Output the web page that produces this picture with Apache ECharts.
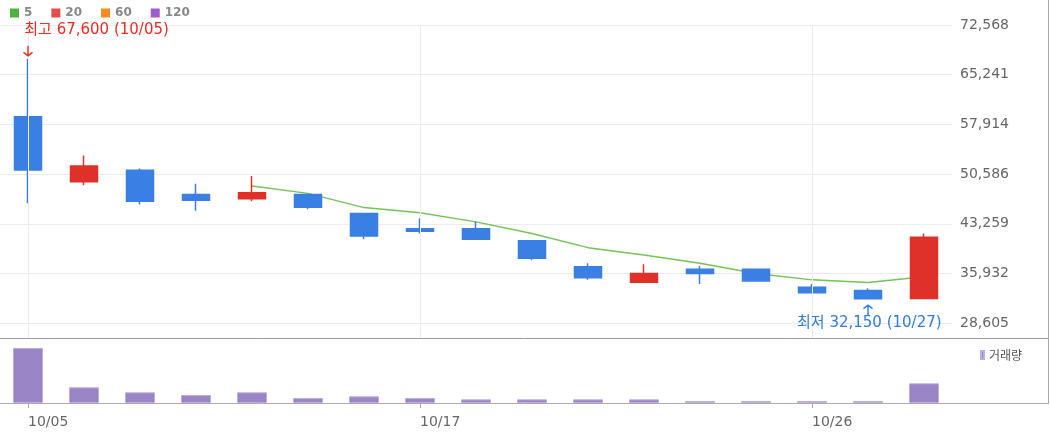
<!DOCTYPE html>
<html>
<head>
<meta charset="utf-8">
<script src="https://cdn.jsdelivr.net/npm/echarts@6/dist/echarts.min.js"></script>
<style>
html,body{margin:0;padding:0;background:#fff;}
#chart{width:1050px;height:434px;}
</style>
</head>
<body>
<div id="chart"></div>
<script>
// ---- data ----
const dates = ['10/05','10/06','10/10','10/11','10/12','10/13','10/16','10/17','10/18','10/19','10/20','10/23','10/24','10/25','10/26','10/27','10/30'];
const opens  = [59050, 49450, 51150, 47600, 46950, 47600, 44800, 42550, 42550, 40750, 36950, 34650, 36550, 36550, 33900, 33450, 32250];
const closes = [51200, 51800, 46600, 46750, 47850, 45700, 41450, 42150, 41000, 38200, 35300, 35950, 35950, 34850, 33100, 32200, 41300];
const lows   = [46300, 48950, 46100, 45200, 46600, 45400, 41000, 41850, 41000, 37900, 35000, 34650, 34400, 34850, 33100, 32150, 32200];
const highs  = [67600, 53350, 51400, 49150, 50300, 47600, 44800, 44100, 43550, 40750, 37450, 37300, 37050, 36550, 34400, 33750, 41850];
const ma5    = ['-', '-', '-', '-', 48850, 47750, 45650, 44900, 43550, 41850, 39750, 38650, 37450, 35950, 35000, 34600, 35450];
const volumes = [5500000, 1570000, 1070000, 800000, 1070000, 500000, 670000, 500000, 370000, 370000, 370000, 370000, 200000, 200000, 200000, 200000, 1970000];
const yTicks = [28605, 35932, 43259, 50586, 57914, 65241, 72568];
const xLabelDates = ['10/05', '10/17', '10/26'];
const maNames = ['5', '20', '60', '120'];
const maColors = ['#4db33d', '#e84b4b', '#f58a1f', '#9b5fcb'];

// ---- build ----
const RED = '#e0302a', BLUE = '#3a7fe3';
const candleData = dates.map((d, i) => {
  const c = closes[i] >= opens[i] ? RED : BLUE;
  return {value: [opens[i], closes[i], lows[i], highs[i]],
          itemStyle: {color: c, color0: c, borderColor: c, borderColor0: c, borderColorDoji: c}};
});
const maxIdx = highs.indexOf(Math.max(...highs));
const minIdx = lows.indexOf(Math.min(...lows));
const fmt = v => Math.round(v).toLocaleString('en-US');
const numFont = 'DejaVu Sans, Liberation Sans, sans-serif';
const korFont = 'DejaVu Sans, "Noto Sans CJK KR", sans-serif';

const chart = echarts.init(document.getElementById('chart'), null, {renderer: 'canvas'});
const option = {
  animation: false,
  backgroundColor: '#fff',
  legend: [
    {
      data: maNames.map((n, i) => ({name: n, itemStyle: {color: maColors[i]}})),
      left: 10, top: 7, padding: 0,
      icon: 'rect', itemWidth: 9, itemHeight: 9, itemGap: 19,
      selectedMode: false,
      textStyle: {color: '#888', fontWeight: 'bold', fontSize: 12, fontFamily: numFont}
    },
    {
      data: [{name: '거래량', itemStyle: {color: '#9a85c7'}}],
      left: 980, top: 349, padding: 0,
      icon: 'rect', itemWidth: 3, itemHeight: 8,
      selectedMode: false,
      textStyle: {color: '#555', fontSize: 12, fontFamily: '"Noto Sans CJK KR", sans-serif'}
    }
  ],
  grid: [
    {left: 0, right: 98, top: 25, height: 313, outerBoundsMode: 'none', containLabel: false},
    {left: 0, right: 98, top: 339, height: 64, outerBoundsMode: 'none', containLabel: false}
  ],
  xAxis: [
    {
      type: 'category', data: dates, gridIndex: 0, boundaryGap: true,
      axisLine: {show: false}, axisTick: {show: false}, axisLabel: {show: false},
      splitLine: {show: false}
    },
    {
      type: 'category', data: dates, gridIndex: 1, boundaryGap: true,
      axisLine: {show: false},
      axisTick: {show: true, alignWithLabel: true, length: 5, lineStyle: {color: '#aaa'},
                 interval: (i, v) => xLabelDates.includes(v)},
      axisLabel: {show: true, interval: (i, v) => xLabelDates.includes(v), align: 'left',
                  margin: 12, color: '#666', fontSize: 14, fontFamily: numFont},
      splitLine: {show: false}
    }
  ],
  yAxis: [
    {
      type: 'value', gridIndex: 0, position: 'right', scale: true,
      min: 26432, max: 72568,
      axisLine: {show: false},
      axisTick: {show: false, customValues: yTicks},
      axisLabel: {show: true, customValues: yTicks, formatter: v => fmt(v), margin: 8,
                  color: '#666', fontSize: 14, fontFamily: numFont},
      splitLine: {show: true, lineStyle: {color: '#ececec', width: 1}}
    },
    {
      type: 'value', gridIndex: 1, min: 0, max: 6400000,
      axisLine: {show: false}, axisTick: {show: false}, axisLabel: {show: false},
      splitLine: {show: false}
    }
  ],
  series: [
    {
      name: '5', type: 'line', xAxisIndex: 0, yAxisIndex: 0, data: ma5, z: 1,
      showSymbol: false, symbol: 'none', smooth: false,
      lineStyle: {color: '#72c455', width: 1.5}, itemStyle: {color: maColors[0]},
      markLine: {
        silent: true, symbol: 'none', label: {show: false},
        lineStyle: {color: '#ececec', width: 1, type: 'solid'},
        data: xLabelDates.map(d => ({xAxis: d}))
      }
    },
    {name: '20', type: 'line', xAxisIndex: 0, yAxisIndex: 0, data: [], itemStyle: {color: maColors[1]}},
    {name: '60', type: 'line', xAxisIndex: 0, yAxisIndex: 0, data: [], itemStyle: {color: maColors[2]}},
    {name: '120', type: 'line', xAxisIndex: 0, yAxisIndex: 0, data: [], itemStyle: {color: maColors[3]}},
    {
      name: 'candle', type: 'candlestick', xAxisIndex: 0, yAxisIndex: 0, z: 3,
      data: candleData, barWidth: 28,
      itemStyle: {color: RED, color0: BLUE, borderColor: RED, borderColor0: BLUE, borderWidth: 1.5},
      markPoint: {
        silent: true, animation: false,
        data: [
          {
            coord: [dates[maxIdx], highs[maxIdx]],
            symbol: 'path://M5,0L5,12M1,8L5,12L9,8', symbolSize: [9, 10], symbolOffset: [0, -8],
            itemStyle: {color: 'rgba(0,0,0,0)', borderColor: '#ee2a24', borderWidth: 1.5},
            label: {show: true, position: [1.5, -14.5], align: 'left', verticalAlign: 'middle',
                    formatter: '최고 ' + fmt(highs[maxIdx]) + ' (' + dates[maxIdx] + ')',
                    color: '#ee2a24', fontSize: 15, fontFamily: korFont}
          },
          {
            coord: [dates[minIdx], lows[minIdx]],
            symbol: 'path://M5,12L5,0M1,4L5,0L9,4', symbolSize: [9, 10], symbolOffset: [0, 11],
            itemStyle: {color: 'rgba(0,0,0,0)', borderColor: '#2f7be0', borderWidth: 1.5},
            label: {show: true, position: [6.5, 19], align: 'center', verticalAlign: 'middle',
                    formatter: '최저 ' + fmt(lows[minIdx]) + ' (' + dates[minIdx] + ')',
                    color: '#2f7be0', fontSize: 15, fontFamily: korFont}
          }
        ]
      }
    },
    {
      name: '거래량', type: 'bar', xAxisIndex: 1, yAxisIndex: 1, data: volumes, barWidth: 30,
      itemStyle: {color: '#9a85c7', borderColor: '#bcaee0', borderWidth: 1}
    }
  ],
  graphic: [
    {type: 'line', shape: {x1: 0, y1: 338.5, x2: 1049, y2: 338.5}, style: {stroke: '#9a9a9a', lineWidth: 1}, silent: true},
    {type: 'line', shape: {x1: 1048.5, y1: 0, x2: 1048.5, y2: 403.5}, style: {stroke: '#aaa', lineWidth: 1}, silent: true},
    {type: 'line', shape: {x1: 0, y1: 403.5, x2: 1049, y2: 403.5}, style: {stroke: '#aaa', lineWidth: 1}, silent: true}
  ]
};
chart.setOption(option);
</script>
</body>
</html>
